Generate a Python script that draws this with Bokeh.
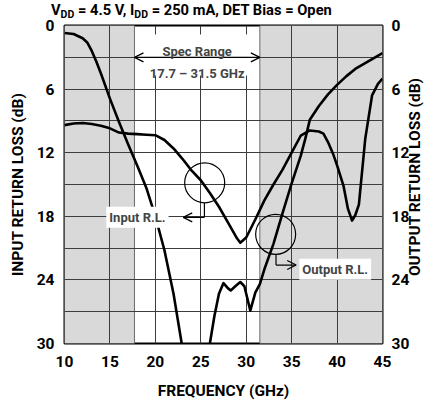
import numpy as np
from bokeh.plotting import figure
from bokeh.layouts import column, row
from bokeh.models import (Range1d, LinearAxis, FixedTicker, Label, Arrow, OpenHead, Div,
                          Spacer)
from bokeh.embed import file_html
from bokeh.resources import INLINE

# ---------------- data ----------------
freq_in = [10, 11, 12, 13, 14, 15, 16, 17, 18, 19, 20, 21, 22, 23, 24, 25, 26, 27, 28,
           29, 29.35, 30, 31, 32, 33, 34, 35, 36, 37, 38, 38.5, 39, 39.6, 40, 40.7,
           41.2, 41.65, 42, 42.4, 43.1, 43.85, 44.5, 45]
rl_in = [9.4, 9.25, 9.2, 9.3, 9.45, 9.7, 10.1, 10.2, 10.25, 10.3, 10.35, 10.8, 11.6,
         12.6, 13.7, 14.6, 15.8, 17.1, 18.6, 20.1, 20.5, 20.0, 18.3, 16.5, 15.0, 13.6,
         12.0, 10.4, 9.9, 10.0, 10.2, 11.0, 12.2, 13.2, 15.1, 17.3, 18.4, 17.9, 16.9,
         10.7, 6.6, 5.5, 5.0]

freq_out = [10, 11, 12, 12.5, 13, 13.5, 14, 15, 16, 17, 18, 19, 20, 21, 22, 22.9,
            np.nan,
            26.0, 26.5, 27.0, 27.5, 28.0, 28.3, 28.8, 29.35, 29.8, 30.45, 31.0, 31.5,
            32.0, 33.0, 34.0, 35.0, 36.0, 36.5, 37.0, 38.0, 39.0, 40.0, 41.0, 42.0,
            43.0, 44.0, 45.0]
rl_out = [0.7, 0.8, 1.2, 1.6, 2.4, 3.4, 4.5, 6.9, 9.1, 11.2, 13.2, 15.3, 18.0, 21.2,
          25.3, 30.0,
          np.nan,
          30.0, 27.4, 25.3, 24.3, 24.8, 25.0, 24.6, 24.2, 24.6, 26.9, 25.2, 24.4,
          23.0, 20.6, 17.7, 14.9, 12.3, 10.7, 8.9, 7.6, 6.5, 5.6, 4.8, 4.1, 3.6,
          3.1, 2.6]

x_ticks = [10, 15, 20, 25, 30, 35, 40, 45]
y_ticks = [0, 6, 12, 18, 24, 30]
x_grid = [15, 20, 25, 30, 35, 40]
y_grid = [3, 6, 9, 12, 15, 18, 21, 24, 27]
spec_lo, spec_hi = 17.7, 31.5
shade_left = [10, spec_hi]
shade_right = [spec_lo, 45]

SUB = "<span style='font-size:10.5px;position:relative;top:2.5px'>DD</span>"
title_html = "V" + SUB + " = 4.5 V, I" + SUB + " = 250 mA, DET Bias = Open"
right_title = "OUTPUT RETURN LOSS (dB)"

FONT = "Roboto"
GRID = "#3c3c3c"
TICK_SIZE = "15.5px"
NOTE_SIZE = "13px"

# ---------------- title (HTML, for the subscripts) ----------------
title_div = Div(
    text=("<div style='position:relative;top:-2px;padding-left:46px;white-space:nowrap;"
          "font-family:Roboto;font-weight:bold;font-size:14.7px;line-height:14px;color:black'>"
          + title_html + "</div>"),
    width=418, height=18, styles={"margin-bottom": "-8px"})

# ---------------- main chart ----------------
p = figure(frame_width=318, frame_height=318,
           x_range=Range1d(10, 45), y_range=Range1d(30, 0),
           output_backend="svg", toolbar_location=None,
           min_border_left=50, min_border_right=22,
           min_border_top=10, min_border_bottom=54,
           background_fill_color="white", border_fill_color=None)
p.outline_line_color = "black"
p.outline_line_width = 2

# shaded out-of-spec bands (below the grid)
p.quad(left=shade_left, right=shade_right, top=[0, 0], bottom=[30, 30],
       fill_color="#d9d9d9", line_color="#6a6a6a", line_width=1, level="image")

# grids
p.xgrid.ticker = FixedTicker(ticks=x_grid)
p.ygrid.ticker = FixedTicker(ticks=y_grid)
for g in (p.xgrid, p.ygrid):
    g.grid_line_color = GRID
    g.grid_line_width = 1

def style_axis(ax):
    ax.major_tick_line_color = None
    ax.minor_tick_line_color = None
    ax.axis_line_color = None
    ax.major_label_text_font = FONT
    ax.major_label_text_font_style = "bold"
    ax.major_label_text_font_size = TICK_SIZE
    ax.major_label_text_color = "black"
    ax.axis_label_text_font = FONT
    ax.axis_label_text_font_style = "bold"
    ax.axis_label_text_font_size = TICK_SIZE
    ax.axis_label_text_color = "black"

p.xaxis.ticker = FixedTicker(ticks=x_ticks)
p.yaxis.ticker = FixedTicker(ticks=y_ticks)
p.xaxis.axis_label = "FREQUENCY (GHz)"
p.yaxis.axis_label = "INPUT RETURN LOSS (dB)"
style_axis(p.xaxis[0])
style_axis(p.yaxis[0])
p.xaxis.major_label_standoff = 6
p.xaxis.axis_label_standoff = 12
p.yaxis.major_label_standoff = 4
p.yaxis.axis_label_standoff = 7

ry = LinearAxis(ticker=FixedTicker(ticks=y_ticks))
style_axis(ry)
ry.major_label_standoff = 3
p.add_layout(ry, "right")

# white patch behind spec-range caption
p.quad(left=[19.3], right=[30.7], top=[0.85], bottom=[4.72],
       fill_color="white", line_color=None)

# curves
p.line(freq_in, rl_in, line_color="black", line_width=2.6, line_join="round")
p.line(freq_out, rl_out, line_color="black", line_width=2.6, line_join="round")

# spec range arrow + text
p.add_layout(Arrow(start=OpenHead(size=9, line_width=1.3), end=OpenHead(size=9, line_width=1.3),
                   x_start=spec_lo, y_start=3, x_end=spec_hi, y_end=3,
                   line_width=1.3, line_color="black"))
p.add_layout(Label(x=(spec_lo + spec_hi) / 2, y=2.45, text="Spec Range",
                   text_font=FONT, text_font_style="bold", text_font_size=NOTE_SIZE,
                   text_align="center", text_baseline="alphabetic"))
p.add_layout(Label(x=(spec_lo + spec_hi) / 2, y=4.5, text="17.7 \u2013 31.5 GHz",
                   text_font=FONT, text_font_style="bold", text_font_size=NOTE_SIZE,
                   text_align="center", text_baseline="alphabetic"))

# callout circles
p.scatter(x=[25.43, 33.24], y=[14.84, 19.7], size=40, marker="circle",
          fill_color=None, line_color="black", line_width=1.2)

# Input R.L. callout
p.line([25.4, 25.4], [16.75, 18.1], line_color="black", line_width=1.2)
p.add_layout(Arrow(end=OpenHead(size=9, line_width=1.2), x_start=25.4, y_start=18.1,
                   x_end=23.07, y_end=18.1, line_width=1.2, line_color="black"))
p.add_layout(Label(x=21.45, y=18.1, text="Input R.L.", text_font=FONT,
                   text_font_style="bold", text_font_size=NOTE_SIZE,
                   text_align="right", text_baseline="middle",
                   background_fill_color="white", padding=3))

# Output R.L. callout
p.line([33.28, 33.28], [21.6, 22.6], line_color="black", line_width=1.2)
p.add_layout(Arrow(end=OpenHead(size=9, line_width=1.2), x_start=33.28, y_start=22.6,
                   x_end=35.5, y_end=22.6, line_width=1.2, line_color="black"))
p.add_layout(Label(x=35.85, y=23.0, text="Output R.L.", text_font=FONT,
                   text_font_style="bold", text_font_size=NOTE_SIZE,
                   text_align="left", text_baseline="middle",
                   background_fill_color="white", padding=3))

# ---------------- right axis title (reads bottom-to-top) ----------------
right_div = Div(
    text=("<div style='position:absolute;left:-1.5px;top:157px;"
          "transform:translate(-50%,-50%) rotate(-90deg);white-space:nowrap;"
          "font-family:Roboto;font-weight:bold;font-size:15.5px;line-height:1;color:black'>"
          + right_title + "</div>"),
    width=23, height=382)

layout = column(title_div, row(Spacer(width=5, height=10), p, right_div, spacing=0),
                spacing=0)
open("out.html", "w").write(file_html(layout, INLINE))
